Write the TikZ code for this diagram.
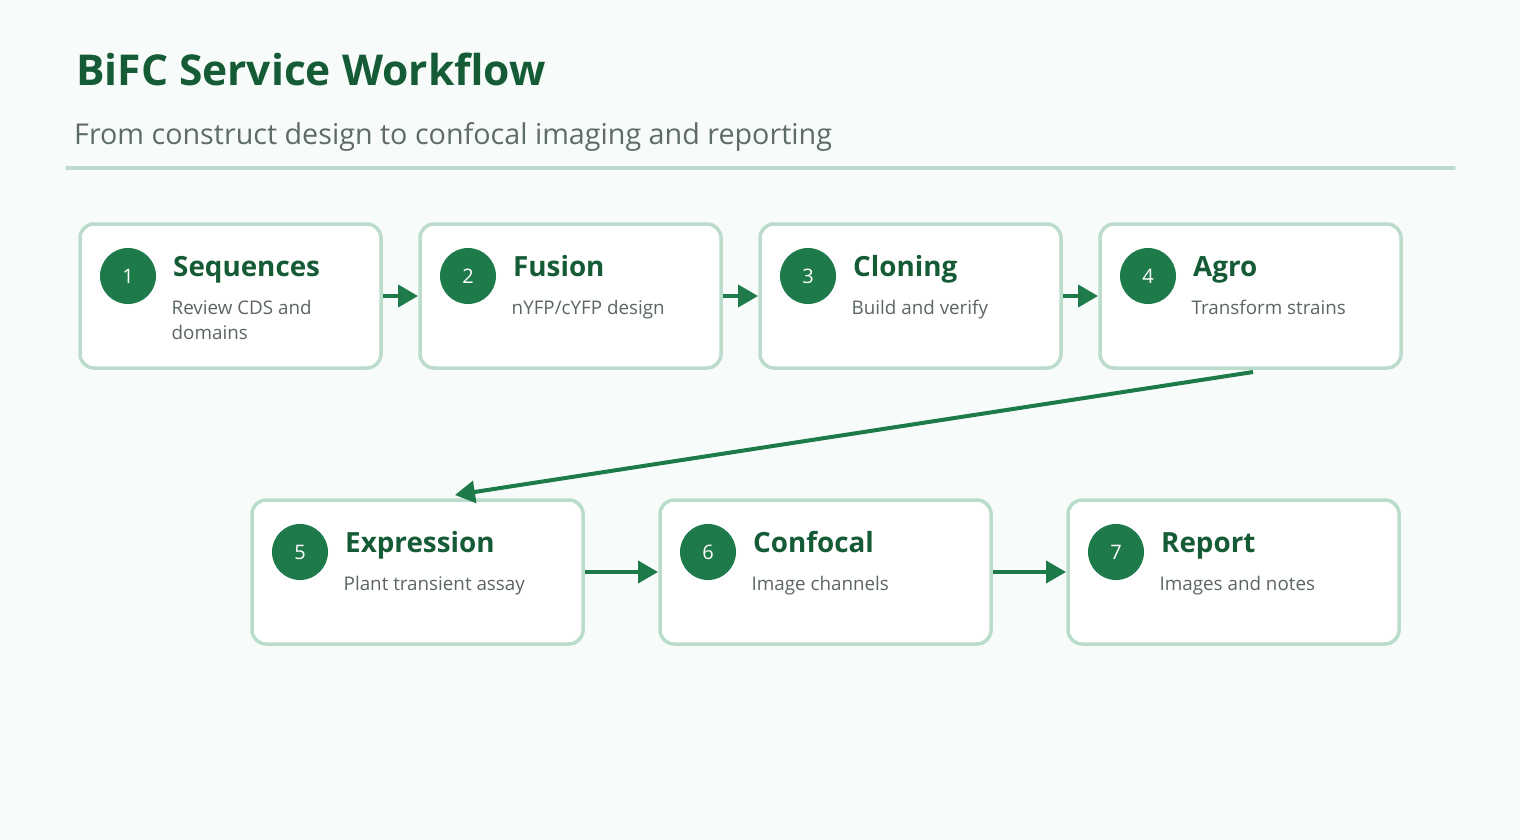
\documentclass[tikz,border=0pt]{standalone}
\usepackage{fontspec}
\setmainfont{Open Sans}
\usetikzlibrary{arrows.meta}
\definecolor{bgc}{HTML}{F7FCFA}
\definecolor{edgec}{HTML}{BCDCCB}
\definecolor{darkg}{HTML}{1F7A4A}
\definecolor{titleg}{HTML}{155C36}
\definecolor{subg}{HTML}{5E6B66}
\definecolor{descg}{HTML}{5B6661}
\tikzset{
  box/.style={draw=edgec, line width=3.5pt, fill=white, rounded corners=14pt,
    minimum height=144pt, inner sep=0pt, outer sep=0pt},
  boxA/.style={box, minimum width=301pt},
  boxB/.style={box, minimum width=331pt},
  num/.style={circle, fill=darkg, minimum size=56pt, inner sep=0pt, text=white,
    font=\fontsize{20}{24}\selectfont},
  steptitle/.style={anchor=base west, inner sep=0pt, text=titleg,
    font=\fontsize{27.8}{32}\selectfont\bfseries},
  stepdesc/.style={anchor=base west, inner sep=0pt, text=descg,
    font=\fontsize{18.8}{25}\selectfont},
  flow/.style={draw=darkg, line width=4pt, -{Triangle[length=20pt,width=22pt]}},
  hflow/.style={flow, shorten <=2pt, shorten >=2pt}
}
\newcommand\wfstep[6]{%
  \node[#2] (#1) at (#3) {};
  \node[num] (#1n) at ([xshift=48pt,yshift=20pt]#1.west) {#4};
  \node[steptitle] (#1t) at ([xshift=93pt,yshift=20pt]#1.west) {#5};
  \node[stepdesc] (#1d) at ([xshift=91.5pt,yshift=-18pt]#1.west)
    {\begin{tabular}[t]{@{}l@{}}#6\end{tabular}};
}
\begin{document}
\begin{tikzpicture}[x=1pt,y=1pt]
\fill[bgc] (0,0) rectangle (1520,-840);
\useasboundingbox (0,0) rectangle (1520,-840);
\node[anchor=base west, inner sep=0pt, text=titleg, font=\fontsize{42.5}{50}\selectfont\bfseries] (title) at (76,-86) {BiFC Service Workflow};
\node[anchor=base west, inner sep=0pt, text=subg, font=\fontsize{28.7}{34}\selectfont] (subtitle) at (74,-145) {From construct design to confocal imaging and reporting};
\coordinate (ruleL) at (67,-168);
\coordinate (ruleR) at (1454,-168);
\draw[edgec, line width=3.5pt, line cap=round] (ruleL) -- (ruleR);

\wfstep{b1}{boxA}{230.5,-296}{1}{Sequences}{Review CDS and\\domains}
\wfstep{b2}{boxA}{570.5,-296}{2}{Fusion}{nYFP/cYFP design}
\wfstep{b3}{boxA}{910.5,-296}{3}{Cloning}{Build and verify}
\wfstep{b4}{boxA}{1250.5,-296}{4}{Agro}{Transform strains}
\wfstep{b5}{boxB}{417.5,-572}{5}{Expression}{Plant transient assay}
\wfstep{b6}{boxB}{825.5,-572}{6}{Confocal}{Image channels}
\wfstep{b7}{boxB}{1233.5,-572}{7}{Report}{Images and notes}

\draw[hflow] (b1.east) -- (b2.west);
\draw[hflow] (b2.east) -- (b3.west);
\draw[hflow] (b3.east) -- (b4.west);
\draw[hflow] (b5.east) -- (b6.west);
\draw[hflow] (b6.east) -- (b7.west);
\draw[flow] ([xshift=2.5pt,yshift=-4pt]b4.south) -- ([xshift=37.5pt,yshift=5pt]b5.north);
\end{tikzpicture}
\end{document}
